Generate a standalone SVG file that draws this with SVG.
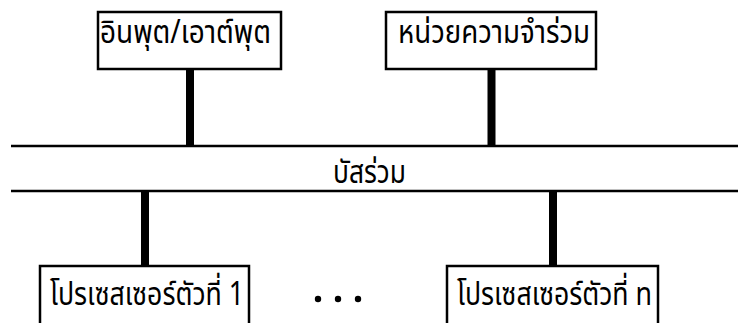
<svg xmlns="http://www.w3.org/2000/svg" width="738" height="323" viewBox="0 0 738 323">
<style>
.box{fill:#fff;stroke:#000;stroke-width:2.5}
.bus{stroke:#000;stroke-width:2.6}
.conn{fill:#000}
.t{font-family:"Noto Sans Thai","Noto Sans","DejaVu Sans",sans-serif;font-size:32px;fill:#000}
</style>
<rect width="738" height="323" fill="#fff"/>
<g id="connectors">
<line class="bus" x1="11" y1="146" x2="738" y2="146"/>
<line class="bus" x1="11" y1="191" x2="738" y2="191"/>
<rect class="conn" x="186" y="69" width="8" height="77"/>
<rect class="conn" x="487.5" y="69" width="8" height="77"/>
<rect class="conn" x="141" y="191" width="8" height="75"/>
<rect class="conn" x="549" y="191" width="8" height="75"/>
</g>
<g id="bus-label">
<text class="t" x="333" y="183" textLength="73" lengthAdjust="spacingAndGlyphs">บัสร่วม</text>
</g>
<g id="io">
<rect class="box" x="98" y="12" width="183" height="57"/>
<text class="t" x="100" y="43" textLength="171" lengthAdjust="spacingAndGlyphs">อินพุต/เอาต์พุต</text>
</g>
<g id="memory">
<rect class="box" x="386" y="12" width="210" height="57"/>
<text class="t" x="398" y="43" textLength="192" lengthAdjust="spacingAndGlyphs">หน่วยความจำร่วม</text>
</g>
<g id="proc1">
<rect class="box" x="40" y="266" width="209" height="70"/>
<text class="t" x="50" y="305" textLength="194" lengthAdjust="spacingAndGlyphs">โปรเซสเซอร์ตัวที่ 1</text>
</g>
<g id="dots">
<circle cx="318" cy="299" r="3.2"/>
<circle cx="338" cy="299" r="3.2"/>
<circle cx="358" cy="299" r="3.2"/>
</g>
<g id="procn">
<rect class="box" x="447" y="266" width="211" height="70"/>
<text class="t" x="457" y="305" textLength="195" lengthAdjust="spacingAndGlyphs">โปรเซสเซอร์ตัวที่ n</text>
</g>
</svg>
